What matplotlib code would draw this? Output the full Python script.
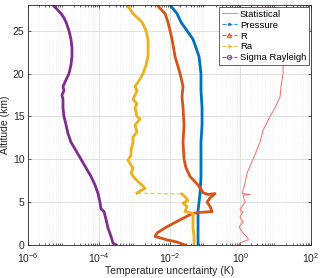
import numpy as np
import matplotlib

matplotlib.use('Agg')
import matplotlib.pyplot as plt
from matplotlib.lines import Line2D

# altitude (km) and uncertainty (K)
stat_alt = [28.0, 27.0, 25.0, 23.0, 21.5, 20.0, 18.5, 17.3, 16.0, 15.0, 13.4, 12.0,
            10.0, 8.4, 7.2, 6.4, 6.0, 5.9, 5.8, 5.0, 4.5, 4.1, 3.85, 3.3, 2.7, 2.1,
            1.4, 0.8, 0.6, 0.35, 0.0]
stat_val = [4.12, 5.01, 7.91, 12.5, 16.2, 16.2, 14.2, 13.3, 9.60, 6.93, 4.40, 3.61,
            2.29, 1.55, 1.36, 1.20, 1.12, 1.89, 1.20, 1.36, 1.12, 0.98, 1.20, 0.98, 1.20, 0.92,
            1.20, 1.66, 1.66, 1.12, 0.86]

pres_alt = [28.0, 27.0, 26.0, 25.0, 24.0, 23.0, 22.0, 21.0, 20.0, 18.0, 16.0, 14.0,
            12.0, 10.0, 8.0, 6.0, 5.0, 4.0, 3.0, 2.0, 1.0, 0.0]
pres_val = [1.03e-2, 1.63e-2, 2.11e-2, 3.13e-2, 4.61e-2, 5.61e-2, 6.82e-2, 7.28e-2,
            7.76e-2, 7.76e-2, 8.30e-2, 8.30e-2, 7.76e-2, 7.76e-2, 7.76e-2, 7.28e-2,
            6.82e-2, 6.40e-2, 6.40e-2, 6.40e-2, 6.40e-2, 6.40e-2]

r_alt = [28.0, 27.0, 26.0, 24.0, 22.0, 20.0, 18.5, 17.3, 16.0, 14.0, 12.0, 10.0, 9.0,
         8.0, 7.5, 7.0, 6.5, 6.1, 5.9, 6.0, 5.5, 5.0, 4.5, 3.9, 3.8, 3.7, 3.0, 2.0,
         1.4, 1.0, 0.6, 0.35, 0.0]
r_val = [4.44e-3, 7.46e-3, 9.08e-3, 1.18e-2, 1.43e-2, 1.98e-2, 2.41e-2, 2.25e-2,
         2.41e-2, 2.57e-2, 2.41e-2, 2.57e-2, 2.92e-2, 3.80e-2, 4.93e-2, 6.40e-2,
         7.76e-2, 8.85e-2, 0.122, 0.193, 0.140, 0.115, 0.140, 0.159, 7.28e-2, 4.61e-2,
         2.11e-2, 7.46e-3, 4.44e-3, 3.89e-3, 8.49e-3, 1.63e-2, 2.74e-2]

ra_alt_top = [28.0, 27.0, 26.0, 25.0, 24.0, 23.0, 22.0, 21.0, 20.0, 19.0, 18.5, 18.0,
              17.5, 17.0, 16.5, 16.0, 15.0, 14.7, 14.0, 13.2, 12.6, 12.0, 11.1, 10.5,
              9.9, 9.3, 9.0, 8.4, 7.9, 7.5, 7.0, 6.6, 6.3, 6.05]
ra_val_top = [6.30e-4, 9.29e-4, 1.67e-3, 2.17e-3, 2.47e-3, 2.47e-3, 2.47e-3, 2.17e-3,
              1.78e-3, 1.29e-3, 1.06e-3, 1.20e-3, 1.06e-3, 9.29e-4, 1.20e-3, 1.06e-3,
              1.20e-3, 1.47e-3, 1.06e-3, 1.20e-3, 9.29e-4, 9.29e-4, 8.17e-4, 8.17e-4,
              6.72e-4, 8.17e-4, 9.29e-4, 8.17e-4, 9.9e-4, 1.20e-3, 1.67e-3, 2.03e-3,
              1.47e-3, 1.20e-3]
ra_alt_low = [5.95, 5.5, 5.2, 4.9, 4.5, 3.9, 3.7, 3.0, 2.0, 1.0, 0.0]
ra_val_low = [2.25e-2, 2.92e-2, 3.33e-2, 2.41e-2, 3.13e-2, 2.74e-2, 4.61e-2, 4.61e-2,
              4.61e-2, 4.93e-2, 4.93e-2]

ray_alt = [28.0, 27.5, 27.0, 26.5, 26.0, 25.0, 24.0, 23.0, 22.0, 21.0, 20.0, 19.5,
           19.0, 18.5, 18.0, 17.5, 17.0, 16.0, 15.0, 14.0, 13.0, 12.0, 11.0, 10.0, 9.0,
           8.0, 7.0, 6.0, 5.0, 4.2, 3.9, 3.0, 2.0, 1.0, 0.2, 0.0]
ray_val = [5.09e-6, 6.6e-6, 8.6e-6, 1.04e-5, 1.19e-5, 1.44e-5, 1.64e-5, 1.75e-5,
           1.75e-5, 1.64e-5, 1.44e-5, 1.26e-5, 1.11e-5, 9.75e-6, 1.04e-5, 9.1e-6,
           9.75e-6, 9.75e-6, 1.04e-5, 1.19e-5, 1.35e-5, 1.64e-5, 2.28e-5, 3.15e-5,
           4.36e-5, 6.04e-5, 7.83e-5, 9.53e-5, 1.08e-4, 1.16e-4, 1.41e-4, 1.60e-4,
           1.82e-4, 2.22e-4, 2.53e-4, 3.08e-4]

labels = ['Statistical', 'Pressure', 'R', 'Ra', 'Sigma Rayleigh']
colors = ['#FF6A6A', '#0072BD', '#D95319', '#EDB120', '#7E2F8E']
markers = ['', '.', '^', '+', 'o']

plt.rcParams['font.family'] = ['Liberation Sans', 'DejaVu Sans']

fig = plt.figure(figsize=(3.2, 2.78), dpi=100)
ax = fig.add_axes([0.0875, 0.1187, 0.8845, 0.8633])

lw = 2.0
ax.plot(stat_val, stat_alt, '-', color=colors[0], lw=0.7)
ax.plot(pres_val, pres_alt, '-', color=colors[1], lw=lw)
ax.plot(r_val, r_alt, '-', color=colors[2], lw=lw)
ax.plot(ra_val_top, ra_alt_top, '-', color=colors[3], lw=lw)
ax.plot([ra_val_top[-1], ra_val_low[0]], [ra_alt_top[-1], ra_alt_low[0]], '--',
        color=colors[3], lw=0.9, alpha=0.7)
ax.plot(ra_val_low, ra_alt_low, '-', color=colors[3], lw=lw)
ax.plot(ray_val, ray_alt, '-', color=colors[4], lw=lw)

ax.set_xscale('log')
ax.set_xlim(1e-6, 1e2)
ax.set_ylim(0, 28)
ax.set_xticks([1e-6, 1e-4, 1e-2, 1e0, 1e2])
ax.set_yticks([0, 5, 10, 15, 20, 25])
ax.tick_params(which='both', direction='in', labelsize=7.5, colors='#262626',
               top=True, right=True, length=2.5, width=0.5, pad=2.5)
ax.tick_params(axis='x', which='both', pad=4.5)
ax.tick_params(which='minor', length=1.5)
ax.grid(True, which='major', color='#DCDCDC', lw=0.6)
ax.grid(True, which='minor', axis='x', color='#E6E6E6', lw=0.4, ls=':')
ax.set_axisbelow(True)
for s in ax.spines.values():
    s.set_linewidth(0.6)
    s.set_color('#262626')

ax.set_xlabel('Temperature uncertainty (K)', fontsize=7.5, color='#262626', labelpad=1)
ax.set_ylabel('Altitude (km)', fontsize=7.5, color='#262626', labelpad=0)
ax.yaxis.set_label_coords(-0.062, 0.5)

handles = []
for i in range(len(labels)):
    ls = '-' if i == 0 else '--'
    handles.append(Line2D([], [], color=colors[i], ls=ls, lw=0.8, marker=markers[i],
                          markersize=3, markerfacecolor='none', alpha=0.8))
leg = ax.legend(handles, labels, loc='upper right', fontsize=6.8, labelspacing=0.2,
                handlelength=1.6, handletextpad=0.35, borderpad=0.25, borderaxespad=0.25,
                fancybox=False, framealpha=1)
leg.get_frame().set_edgecolor('#262626')
leg.get_frame().set_linewidth(0.5)

plt.savefig('out.png', dpi=100)
